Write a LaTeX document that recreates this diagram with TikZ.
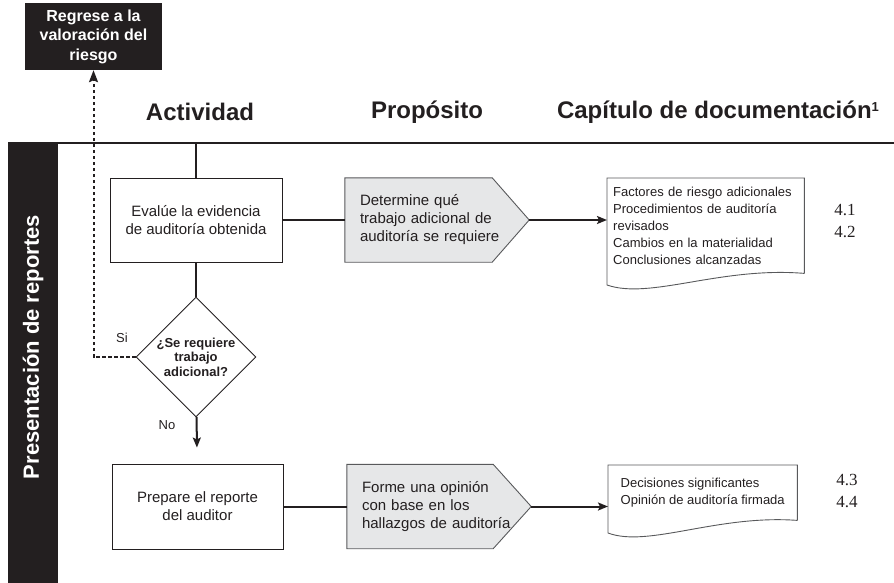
\documentclass[tikz,border=0pt]{standalone}
\usepackage{fontspec}
\setmainfont{Liberation Sans}
\newfontfamily\numfont{Liberation Serif}
\usetikzlibrary{arrows.meta,positioning,shapes.geometric,backgrounds}
\definecolor{inkblack}{RGB}{35,31,32}
\definecolor{softgray}{RGB}{230,231,232}
\definecolor{edgegray}{RGB}{88,89,91}

\begin{document}
\begin{tikzpicture}[x=1pt,y=-1pt,
  every node/.style={text=inkblack},
  hdr/.style={font=\fontsize{24}{28}\selectfont\bfseries},
  darkbox/.style={fill=inkblack,text=white,font=\fontsize{16}{19.5}\selectfont\bfseries,align=center},
  activity/.style={draw=inkblack,line width=0.9pt,minimum width=172pt,minimum height=84pt,align=center,font=\fontsize{15}{18}\selectfont},
  purpose/.style={minimum width=184pt,minimum height=84pt,text width=154pt,inner xsep=15pt,align=left,font=\fontsize{15}{18}\selectfont},
  pentedge/.style={draw=edgegray,line width=0.9pt,fill=softgray},
  docbox/.style={anchor=north west,align=left,font=\fontsize{13}{17}\selectfont},
  docedge/.style={draw=edgegray,line width=0.9pt},
  chap/.style={font=\numfont\fontsize{17}{22}\selectfont,align=left},
  decision/.style={draw=inkblack,line width=0.9pt,diamond,aspect=1,minimum size=120pt,inner sep=0pt,align=center,font=\fontsize{13}{14.5}\selectfont\bfseries},
  answer/.style={font=\fontsize{13}{15}\selectfont},
  conn/.style={line width=2pt,draw=inkblack},
  arr/.style={conn,-{Stealth[length=10pt,width=8pt,inset=2pt]}},
  back/.style={draw=inkblack,line width=2pt,dash pattern=on 3.5pt off 2.5pt,-{Stealth[length=12pt,width=9pt,inset=2pt]}}
]
\useasboundingbox (0,0) rectangle (894,583);
\node[darkbox,minimum width=137pt,minimum height=67pt] (title) at (93.5,36.5) {Regrese a la\\valoración del\\riesgo};
\node[hdr] (act) at (200,112) {Actividad};
\node[hdr] (prop) at (427,112) {Propósito};
\node[hdr] (cap) at (718,112) {Capítulo de documentación\raisebox{7pt}{\fontsize{13}{13}\selectfont 1}};
\coordinate (hl) at (8,143);
\coordinate (hr) at (894,143);
\coordinate (top) at (196,143);
\draw[conn] (hl) -- (hr);
\node[fill=inkblack,minimum width=50pt,minimum height=440pt,inner sep=0pt] (lane) at (33,363) {};
\node[darkbox,rotate=90,font=\fontsize{22}{26}\selectfont\bfseries] (lanename) at (33,347) {Presentación de reportes};

\node[activity] (act1) at (196,220) {Evalúe la evidencia\\de auditoría obtenida};
\node[purpose] (p1) at (437,220) {Determine qué\\trabajo adicional de\\auditoría se requiere};
\node[docbox,minimum width=197pt,minimum height=95pt,text width=185pt,inner xsep=6pt] (d1) at (607,178) {Factores de riesgo adicionales\\Procedimientos de auditoría\\revisados\\Cambios en la materialidad\\Conclusiones alcanzadas};
\node[chap] (n1) at (845,221) {4.1\\4.2};
\node[decision] (dec) at (196,357) {¿Se requiere\\trabajo\\adicional?};
\node[answer] (si) at (122,338) {Si};
\node[answer] (no) at (167,425) {No};
\node[activity,minimum width=171pt,minimum height=85pt] (act2) at (197.5,506.5) {Prepare el reporte\\del auditor};
\node[purpose] (p2) at (439,506.5) {Forme una opinión\\con base en los\\hallazgos de auditoría};
\node[docbox,minimum width=189pt,minimum height=55pt,yshift=-1pt] (d2) at (608,464) {Decisiones significantes\\Opinión de auditoría firmada};
\node[chap] (n2) at (847,491) {4.3\\4.4};

\begin{scope}[on background layer]
\draw[pentedge] (p1.north west) -- ([xshift=-37pt]p1.north east) -- (p1.east) -- ([xshift=-37pt]p1.south east) -- (p1.south west) -- cycle;
\draw[pentedge] (p2.north west) -- ([xshift=-38pt]p2.north east) -- (p2.east) -- ([xshift=-38pt]p2.south east) -- (p2.south west) -- cycle;
\draw[docedge] (d1.south east) -- (d1.north east) -- (d1.north west) -- ++(0,107) .. controls +(43,15) and +(-84,-7) .. (d1.south east);
\draw[docedge] (d2.south east) -- (d2.north east) -- (d2.north west) -- ++(0,68) .. controls +(40,15) and +(-80,-6) .. (d2.south east);
\end{scope}

\draw[conn] (top) -- (act1);
\draw[conn] (act1) -- (p1);
\draw[arr] (p1.east) -- (p1.east -| d1.west);
\draw[conn] (act1) -- (dec);
\draw[back] (dec.west) -| (title.south);
\draw[arr,shorten >=16pt] (dec) -- (act2);
\draw[conn] (act2) -- (p2);
\draw[arr] (p2.east) -- (p2.east -| d2.west);
\end{tikzpicture}
\end{document}
